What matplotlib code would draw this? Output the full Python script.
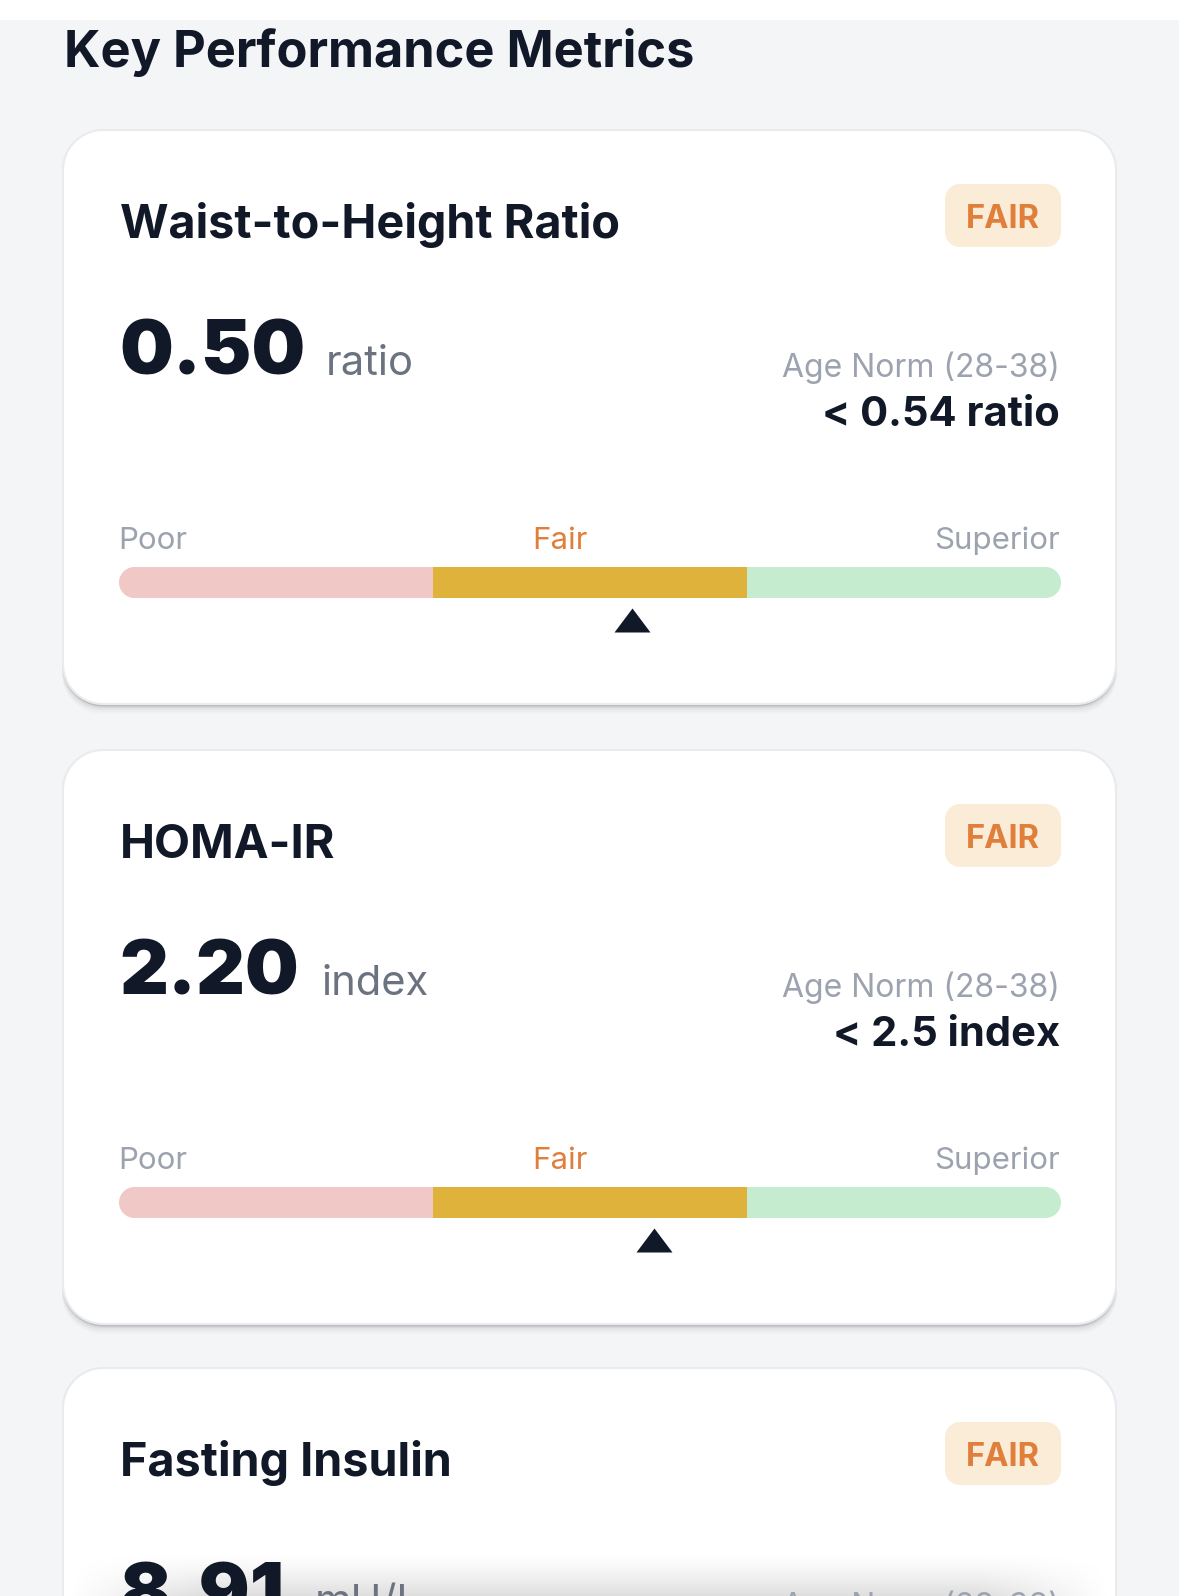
import numpy as np
import matplotlib
matplotlib.use("Agg")
import matplotlib.pyplot as plt
from matplotlib.patches import Polygon, Rectangle

W, H = 1179, 1596

page_title = "Key Performance Metrics"
card_titles = ["Waist-to-Height Ratio", "HOMA-IR", "Fasting Insulin"]
card_status = ["FAIR", "FAIR", "FAIR"]
card_values = ["0.50", "2.20", "8.91"]
card_units = ["ratio", "index", "mU/L"]
norm_labels = ["Age Norm (28-38)", "Age Norm (28-38)", "Age Norm (28-38)"]
norm_values = ["< 0.54 ratio", "< 2.5 index"]
band_labels = ["Poor", "Fair", "Superior"]
band_widths = [33.33, 33.33, 33.34]
band_colors = ["#f0c8c5", "#dfb23c", "#c5ecce"]
marker_pos = [54.5, 56.8]

# layout, in pixels from the top of each card
card_tops = [130, 750, 1368]
unit_x = [326, 322, 315]
value_shift = [0, 0, 5]
side_shift = [0, 0, 1]

INK = "#111827"
ORANGE = "#e07f3c"
GREY = "#9ca3af"
plt.rcParams["font.family"] = ["Inter", "Liberation Sans", "DejaVu Sans"]


def rounded(x, y, w, h, r, sx=1.0, **kw):
    # true circular corners; sx squeezes x when the axes is not in pixels
    t = np.linspace(0, np.pi / 2, 16)
    cx, cy = r * np.cos(t) * sx, r * np.sin(t)
    xs = np.r_[x + w - sx * r + cx, x + sx * r - cx[::-1], x + sx * r - cx, x + w - sx * r + cx[::-1]]
    ys = np.r_[y + h - r + cy, y + h - r + cy[::-1], y + r - cy, y + r - cy[::-1]]
    return Polygon(np.c_[xs, ys], closed=True, **kw)


fig = plt.figure(figsize=(W / 100, H / 100), dpi=100, facecolor="#f3f5f7")
ax = fig.add_axes([0, 0, 1, 1])
ax.set_xlim(0, W)
ax.set_ylim(H, 0)
ax.axis("off")

# white strip of the phone status bar
ax.add_patch(Rectangle((0, 0), W, 20, fc="white", ec="none", zorder=1))
ax.text(64, 67, page_title, fontsize=36.4, fontweight="bold", color=INK, zorder=5)

for i, top in enumerate(card_tops):
    # soft shadow under the card
    for grow, side, alpha in [(9, 1, 0.015), (7, 1, 0.02), (5, 1, 0.03), (3, 0.5, 0.05), (1.5, 0, 0.12)]:
        ax.add_patch(rounded(63 - side, top, 1053 + 2 * side, 575 + grow, 40,
                             fc="black", ec="none", alpha=alpha, zorder=2))
    ax.add_patch(rounded(63, top, 1053, 574, 40, fc="white", ec="#e9ebee", lw=1.5, zorder=3))

    ax.text(120, top + 108.5, card_titles[i], fontsize=33.7, fontweight="bold", color=INK, zorder=5)
    ax.add_patch(rounded(945, top + 54, 116, 63, 15, fc="#fbecd8", ec="none", zorder=4))
    ax.text(1003, top + 98, card_status[i], fontsize=23.5, fontweight="bold", color=ORANGE,
            ha="center", zorder=5)
    ax.text(119, top + 244.5 + value_shift[i], card_values[i], fontsize=54.5, fontweight="black",
            color=INK, zorder=5)
    ax.text(unit_x[i], top + 245 + side_shift[i], card_units[i], fontsize=30, color="#6b7280", zorder=5)
    ax.text(1060, top + 247 + side_shift[i], norm_labels[i], fontsize=23, color=GREY, ha="right", zorder=5)
    if i < len(norm_values):
        ax.text(1060, top + 295.5, norm_values[i], fontsize=30, fontweight="bold", color=INK,
                ha="right", zorder=5)
        ax.text(118, top + 419, band_labels[0], fontsize=22.5, color=GREY, zorder=5)
        ax.text(560, top + 419, band_labels[1], fontsize=22.5, color=ORANGE, ha="center", zorder=5)
        ax.text(1060, top + 419, band_labels[2], fontsize=22.5, color=GREY, ha="right", zorder=5)

# grey fade at the bottom edge of the screenshot, under the text
fade = np.zeros((60, 200, 4))
edge = np.clip(np.minimum(np.linspace(0, 1, 200), np.linspace(1, 0, 200)) * 8, 0, 1)
fade[:, :, 3] = np.outer(np.linspace(0, 1, 60) ** 1.4 * 0.13, edge)
ax.imshow(fade, extent=(66, 1113, H, H - 46), aspect="auto", zorder=4)
ax.set_xlim(0, W)
ax.set_ylim(H, 0)

for i, top in enumerate(card_tops[:2]):
    # one small axes per gauge, so bar and marker share a 0-100 scale
    g_top = top + 437
    g = fig.add_axes([119 / W, 1 - (g_top + 66) / H, 942 / W, 66 / H])
    g.set_xlim(0, 100)
    g.set_ylim(66, 0)
    g.axis("off")
    clip = rounded(0, 0, 100, 31, 15.5, sx=100 / 942, fc="none", ec="none")
    g.add_patch(clip)
    left = 0
    for w, c in zip(band_widths, band_colors):
        b = g.barh(15.5, w, height=31, left=left, color=c, linewidth=0)
        b[0].set_clip_path(clip)
        left += w
    g.scatter([marker_pos[i]], [52.5], marker=[(-18, -12), (18, -12), (0, 12)], s=672, color=INK,
              linewidths=0, clip_on=False)

fig.savefig("out.png", dpi=100, facecolor=fig.get_facecolor())
